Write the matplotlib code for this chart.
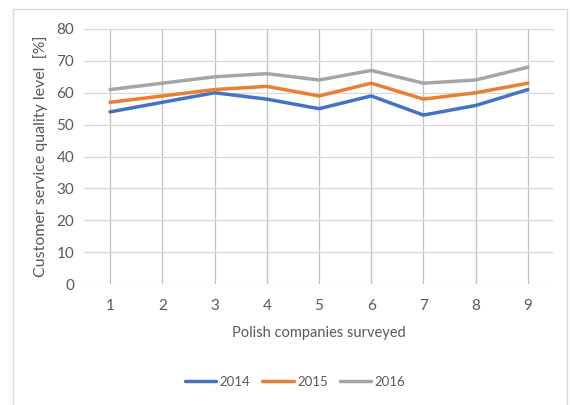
import numpy as np
import matplotlib.pyplot as plt
from matplotlib.patches import Rectangle

companies = [1, 2, 3, 4, 5, 6, 7, 8, 9]
y2014 = [54, 57, 60, 58, 55, 59, 53, 56, 61]
y2015 = [57, 59, 61, 62, 59, 63, 58, 60, 63]
y2016 = [61, 63, 65, 66, 64, 67, 63, 64, 68]
series = [("2014", y2014, "#4472C4"), ("2015", y2015, "#ED7D31"), ("2016", y2016, "#A5A5A5")]

plt.rcParams["font.family"] = ["Lato", "DejaVu Sans"]
txt = "#595959"

fig = plt.figure(figsize=(5.7, 4.05), dpi=100)
fig.patches.append(Rectangle((13 / 570, -0.1), 554 / 570, 1.1 - 9 / 405,
                             transform=fig.transFigure, fill=False,
                             edgecolor="#D9D9D9", lw=1))
ax = fig.add_axes([84 / 570, 1 - 284 / 405, 470 / 570, 255 / 405])

for name, vals, col in series:
    ax.plot(companies, vals, color=col, lw=2.5, label=name, solid_capstyle="round")

ax.set_xlim(0.5, 9.5)
ax.set_ylim(0, 80)
ax.set_yticks(np.arange(0, 81, 10))
ax.set_xticks(companies)
ax.grid(axis="y", color="#D9D9D9", lw=0.9)
ax.grid(axis="x", color="#BFBFBF", lw=0.9)
ax.set_axisbelow(True)
for s in ax.spines.values():
    s.set_visible(False)
ax.tick_params(length=0, colors=txt, labelsize=11)
ax.tick_params(axis="x", pad=11)
ax.tick_params(axis="y", pad=7)

ax.set_xlabel("Polish companies surveyed", color=txt, fontsize=10.5, labelpad=9)
ax.set_ylabel("Customer service quality level  [%]", color=txt, fontsize=11.5, labelpad=6)

ax.legend(loc="center", bbox_to_anchor=(295 / 570, 1 - 382 / 405),
          bbox_transform=fig.transFigure, ncol=3, frameon=False,
          fontsize=9.5, labelcolor=txt, handlelength=2.4, columnspacing=0.9,
          handletextpad=0.25)

fig.savefig("out.png", dpi=100)
